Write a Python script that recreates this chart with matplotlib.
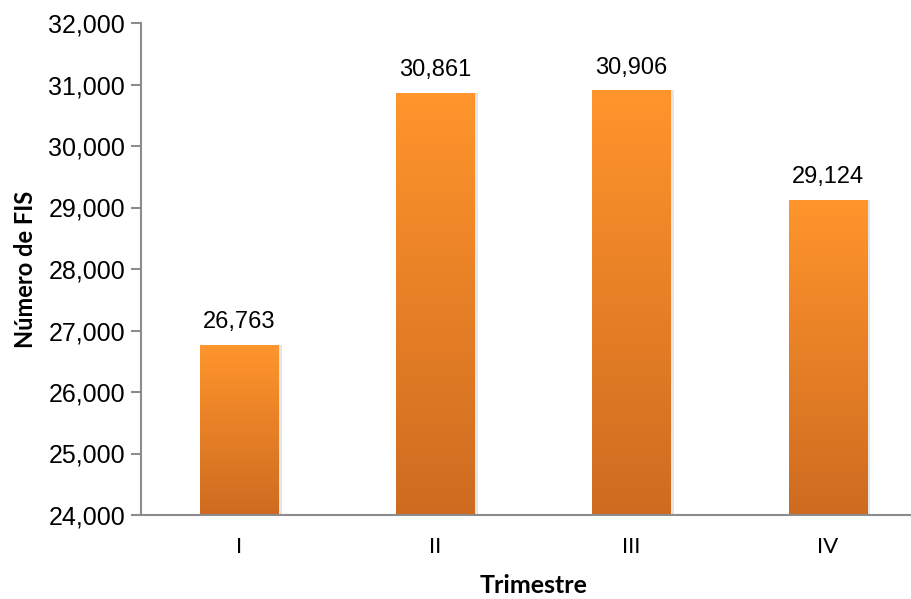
import matplotlib
matplotlib.use("Agg")
import matplotlib.pyplot as plt
import numpy as np
from matplotlib.colors import LinearSegmentedColormap
from matplotlib.ticker import FuncFormatter

categories = ["I", "II", "III", "IV"]
values = [26763, 30861, 30906, 29124]
yticks = [24000, 25000, 26000, 27000, 28000, 29000, 30000, 31000, 32000]

W, H = 912, 599
fig = plt.figure(figsize=(W / 100, H / 100), dpi=100)
ax = fig.add_axes([141 / W, (H - 515) / H, 785 / W, 492 / H])

x = np.arange(len(categories))
bw = 0.40
bars = ax.bar(x, values, width=bw, color="none", edgecolor="none", zorder=3)

cmap = LinearSegmentedColormap.from_list("g", ["#CE6B20", "#FF952C"])
grad = np.linspace(0, 1, 256).reshape(-1, 1)
for b in bars:
    x0, w, h = b.get_x(), b.get_width(), b.get_height()
    # subtle shadow
    ax.bar(x0 + w / 2 + 0.012, h, width=w + 0.01, bottom=0, color="#000000",
           alpha=0.10, zorder=2)
    im = ax.imshow(grad, cmap=cmap, origin="lower", aspect="auto",
                   extent=[x0, x0 + w, yticks[0], h], zorder=3)
    im.set_clip_path(b)

for xi, v in zip(x, values):
    ax.text(xi, v + 190, f"{v:,}", ha="center", va="bottom",
            fontsize=17, family="Liberation Sans", color="#000000")

ax.set_xlim(-0.5, len(categories) - 0.5)
ax.set_ylim(yticks[0], yticks[-1])
ax.set_yticks(yticks)
ax.yaxis.set_major_formatter(FuncFormatter(lambda v, p: f"{int(v):,}"))
ax.set_xticks(x)
ax.set_xticklabels(categories, family="Lato", fontsize=16)
for lab in ax.get_yticklabels():
    lab.set_family("Liberation Sans")
    lab.set_fontsize(18)

ax.tick_params(axis="x", length=0, pad=16)
ax.tick_params(axis="y", length=7, width=1.5, color="#8c8c8c", pad=4.5)

for s in ["top", "right"]:
    ax.spines[s].set_visible(False)
for s in ["left", "bottom"]:
    ax.spines[s].set_color("#8c8c8c")
    ax.spines[s].set_linewidth(1.5)
ax.spines["bottom"].set_zorder(5)

ax.set_xlabel("Trimestre", family="Lato", fontweight="bold", fontsize=18, labelpad=12)
ax.set_ylabel("Número de FIS", family="Lato", fontweight="bold", fontsize=17, labelpad=8)

fig.savefig("out.png", dpi=100)
